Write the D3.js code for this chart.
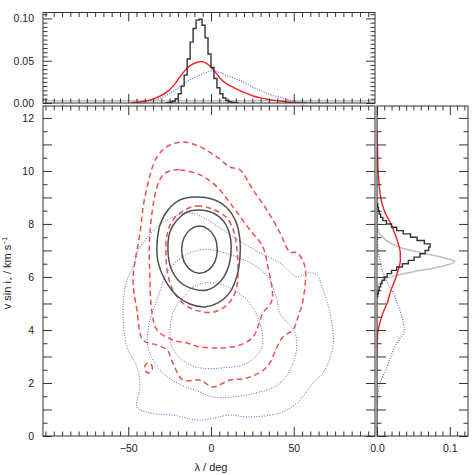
<!DOCTYPE html>
<html lang="en">
<head>
<meta charset="UTF-8">
<title>lambda vs v sin i</title>
<script src="https://d3js.org/d3.v7.min.js"></script>
<style>
    body { margin: 0; background: #fff; }
    svg { display: block; font-family: "Liberation Sans", Arial, sans-serif; }
    .tick text { font-size: 10.5px; fill: #222; }
    .tick line { stroke: #333; }
</style>
</head>
<body>
<svg id="chart" width="475" height="475"></svg>
<script>
// ---- marginal in lambda (top panel) ----
var lamBinWidth = 1.8;
var blackLamCenters = [-26.1, -24.3, -22.5, -20.7, -18.9, -17.1, -15.3, -13.5, -11.7, -9.9, -8.1, -6.3, -4.5, -2.7,
    -0.9, 0.9, 2.7, 4.5, 6.3, 8.1, 9.9, 11.7, 13.5, 15.3];
var blackLamValues  = [0.0003, 0.0008, 0.002, 0.005, 0.011, 0.020, 0.033, 0.052, 0.072, 0.088, 0.098, 0.099, 0.092, 0.077,
    0.058, 0.042, 0.029, 0.018, 0.011, 0.006, 0.003, 0.0015, 0.0007, 0.0003];

var redLam = [[-48, 0.0003], [-42, 0.0015], [-36, 0.004], [-30, 0.009], [-26, 0.014], [-22, 0.022], [-18, 0.033],
    [-14, 0.042], [-10, 0.047], [-6, 0.049], [-2, 0.046], [2, 0.038], [6, 0.028], [10, 0.022], [14, 0.018],
    [18, 0.014], [22, 0.011], [26, 0.008], [30, 0.006], [35, 0.0042], [40, 0.0028], [46, 0.0012], [52, 0.0004], [58, 0]];
var blueLam = [[-50, 0], [-40, 0.0015], [-35, 0.003], [-31, 0.0056], [-27, 0.009], [-23, 0.0135], [-19, 0.019],
    [-15, 0.025], [-11, 0.029], [-7, 0.033], [-3, 0.036], [1, 0.038], [5, 0.0365], [9, 0.033], [13, 0.030],
    [17, 0.027], [21, 0.023], [25, 0.019], [30, 0.0145], [34, 0.011], [39, 0.008], [44, 0.0055], [49, 0.003],
    [54, 0.0015], [60, 0.0007], [66, 0.0003], [72, 0]];
var greyLam = [[-101.5, 0.0028], [99.1, 0.0028]];

// ---- marginal in v sin i (right panel) ----
var vBinWidth = 0.125;
var blackVEdges = [5.25, 5.375, 5.5, 5.625, 5.75, 5.875, 6.0, 6.125, 6.25, 6.375, 6.5, 6.625, 6.75, 6.875, 7.0,
    7.125, 7.25, 7.375, 7.5, 7.625, 7.75, 7.875, 8.0, 8.125, 8.25, 8.375, 8.5, 8.625];
var blackVValues = [0.001, 0.002, 0.003, 0.005, 0.007, 0.010, 0.014, 0.020, 0.027, 0.035, 0.043, 0.051, 0.059, 0.066, 0.071,
    0.073, 0.065, 0.055, 0.046, 0.036, 0.027, 0.020, 0.013, 0.008, 0.005, 0.003, 0.002, 0.001];

var redV = [[11.5, 0], [11, 0.0005], [10.5, 0.001], [10, 0.0015], [9.5, 0.003], [9, 0.005], [8.5, 0.010], [8, 0.019],
    [7.6, 0.025], [7.27, 0.029], [6.9, 0.032], [6.6, 0.032], [6.26, 0.029], [5.9, 0.025], [5.63, 0.021], [5.3, 0.017],
    [5.0, 0.0138], [4.7, 0.009], [4.38, 0.005], [4.1, 0.0025], [3.9, 0.001], [3.5, 0.0003], [3, 0]];
var blueV = [[8, 0], [7.66, 0.0005], [7.3, 0.001], [6.9, 0.002], [6.5, 0.005], [6.0, 0.010], [5.7, 0.016], [5.38, 0.023],
    [5.0, 0.028], [4.63, 0.033], [4.3, 0.036], [4.0, 0.0376], [3.62, 0.030], [3.4, 0.025], [3.13, 0.021], [2.85, 0.017],
    [2.6, 0.014], [2.3, 0.009], [2.0, 0.004], [1.7, 0.002], [1.36, 0.001], [1.0, 0.0004], [0.6, 0]];
var greyV = [[12.45, 0], [8.0, 0], [7.7, 0.002], [7.5, 0.008], [7.3, 0.017], [7.1, 0.033], [6.95, 0.055], [6.8, 0.08],
    [6.68, 0.098], [6.58, 0.107], [6.48, 0.100], [6.35, 0.080], [6.2, 0.050], [6.05, 0.025], [5.9, 0.010],
    [5.75, 0.003], [5.6, 0.001], [5.4, 0], [0, 0]];

// ---- 2D contours [lambda, v sin i] ----
var blackContours = [
    [[3.8, 7.03], [2.4, 7.48], [-1.6, 7.80], [-6.9, 7.92], [-12.3, 7.80], [-16.3, 7.48], [-17.7, 7.03],
     [-16.3, 6.58], [-12.3, 6.26], [-6.9, 6.14], [-1.6, 6.26], [2.4, 6.58]],
    [[-7.3, 8.53], [1.2, 8.42], [7.9, 8.08], [11.5, 7.55], [12.1, 6.94], [10.3, 6.34], [5.4, 5.81], [-2.4, 5.51],
     [-10.9, 5.55], [-18.7, 5.81], [-24.2, 6.34], [-26.0, 7.02], [-24.8, 7.70], [-20.5, 8.15], [-14.5, 8.45]],
    [[-9.7, 9.02], [0.6, 8.94], [9.1, 8.64], [15.1, 8.08], [17.5, 7.40], [17.5, 6.72], [15.7, 6.04], [11.5, 5.43],
     [4.2, 5.02], [-3.6, 4.87], [-12.7, 4.98], [-21.1, 5.32], [-27.8, 5.89], [-32.0, 6.57], [-32.6, 7.21],
     [-30.8, 7.96], [-26.0, 8.53], [-18.7, 8.91]]
];
var redContours = [
    [[-15.7, 8.53], [-8.5, 8.68], [0.6, 8.57], [9.1, 8.26], [13.9, 7.70], [15.7, 7.02], [16.3, 6.26], [15.1, 5.51],
     [10.3, 4.98], [1.8, 4.68], [-7.9, 4.72], [-16.3, 4.98], [-22.4, 5.43], [-26.0, 6.08], [-27.2, 6.83],
     [-26.6, 7.58], [-23.0, 8.15]],
    [[-24.8, 10.0], [-18.7, 10.04], [-6.6, 9.85], [3.6, 9.40], [13.3, 8.64], [23.6, 7.77], [31.4, 7.13], [34.4, 6.38],
     [36.9, 5.13], [31.4, 4.64], [25.4, 3.74], [17.5, 3.43], [5.4, 3.32], [-6.6, 3.36], [-14.5, 3.51], [-23.0, 3.62],
     [-32.6, 4.0], [-35.6, 4.64], [-36.9, 5.89], [-36.9, 7.66], [-32.6, 9.40], [-29.0, 9.85]],
    [[-16.9, 11.09], [-6.6, 10.91], [3.6, 10.53], [11.5, 10.15], [17.5, 10.04], [25.4, 9.28], [33.8, 8.53],
     [41.7, 7.66], [47.7, 6.94], [52.0, 6.91], [56.8, 6.38], [55.6, 5.13], [52.6, 4.49], [49.5, 4.00], [43.5, 3.74],
     [39.9, 3.36], [33.8, 2.60], [21.8, 2.19], [11.5, 2.11], [1.2, 1.85], [-6.6, 2.11], [-16.9, 2.11], [-23.0, 2.75],
     [-26.6, 3.25], [-32.6, 3.43], [-41.1, 3.62], [-44.7, 4.75], [-47.1, 5.89], [-42.9, 7.66], [-39.9, 9.02],
     [-32.6, 10.53], [-24.8, 10.98]],
    [[-37.8, 2.76], [-36.1, 2.70], [-35.4, 2.57], [-36.1, 2.44], [-37.8, 2.38], [-39.5, 2.44], [-40.2, 2.57], [-39.5, 2.70]]
];
var blueContours = [
    [[-14.5, 5.40], [-10.9, 5.62], [-4.8, 5.77], [7.3, 5.70], [21.8, 5.13], [29.6, 4.26], [30.8, 3.36], [21.8, 2.75],
     [7.3, 2.57], [-6.6, 2.57], [-14.5, 2.75], [-23.6, 3.36], [-23.0, 4.64]],
    [[-32.6, 5.13], [-26.6, 6.15], [-17.5, 6.75], [-6.6, 7.02], [1.2, 7.02], [15.7, 6.75], [27.8, 6.38], [35.6, 5.89],
     [39.9, 5.13], [41.7, 4.64], [50.8, 3.89], [50.8, 2.98], [41.7, 2.0], [21.8, 1.55], [1.2, 1.47], [-6.6, 1.66],
     [-20.5, 2.0], [-30.8, 2.49], [-38.1, 3.36], [-36.9, 4.38]],
    [[-50.8, 5.89], [-47.1, 6.38], [-42.9, 7.13], [-38.7, 7.47], [-32.6, 7.89], [-23.0, 8.26], [-14.5, 8.42],
     [-6.6, 8.30], [7.3, 7.77], [19.3, 7.28], [29.6, 6.91], [41.7, 6.53], [52.0, 6.0], [58.6, 6.15], [64.0, 6.08],
     [67.7, 5.51], [71.9, 4.64], [73.7, 3.36], [67.7, 2.38], [61.6, 2.0], [52.0, 1.25], [41.7, 0.87], [21.8, 0.72],
     [11.5, 0.79], [-6.6, 0.60], [-23.0, 0.79], [-36.9, 0.87], [-44.7, 1.09], [-42.9, 1.85], [-44.7, 2.60],
     [-50.8, 3.36], [-53.2, 4.64], [-52.6, 5.32]]
];

// ---- axis ticks ----
var lamMajor = [-50, 0, 50];
var vMajor = [0, 2, 4, 6, 8, 10, 12];
var topMajor = [0, 0.05, 0.10];
var rightMajor = [0, 0.1];

// ---- layout ----
var mainP = { x0: 43, x1: 375, y0: 106, y1: 436 };
var topP = { x0: 43, x1: 375, y0: 12.5, y1: 103 };
var sideP = { x0: 377, x1: 468, y0: 106, y1: 436 };

var x = d3.scaleLinear().domain([-101.5, 99.1]).range([mainP.x0, mainP.x1]);
var y = d3.scaleLinear().domain([0, 12.45]).range([mainP.y1, mainP.y0]);
var yTop = d3.scaleLinear().domain([0, 0.107]).range([topP.y1, topP.y0]);
var xSide = d3.scaleLinear().domain([0, 0.125]).range([sideP.x0, sideP.x1]);

var svg = d3.select("#chart");
var defs = svg.append("defs");
function clip(id, p) {
    defs.append("clipPath").attr("id", id).append("rect")
        .attr("x", p.x0).attr("y", p.y0).attr("width", p.x1 - p.x0).attr("height", p.y1 - p.y0);
}
clip("cm", mainP); clip("ct", topP); clip("cs", sideP);

var BLACK = "#333", RED = "#ee2222", RED2 = "#ee5050", BLUE = "#6060e8", GREY = "#c0c0c0";

// ticks: inward on all four sides
function ticks(p, orient, scale, values, len, fmt, pad) {
    var ax, tr;
    if (orient === "bottom") { ax = d3.axisBottom(scale); tr = "translate(0," + p.y1 + ")"; }
    if (orient === "top") { ax = d3.axisTop(scale); tr = "translate(0," + p.y0 + ")"; }
    if (orient === "left") { ax = d3.axisLeft(scale); tr = "translate(" + p.x0 + ",0)"; }
    if (orient === "right") { ax = d3.axisRight(scale); tr = "translate(" + p.x1 + ",0)"; }
    ax.tickValues(values).tickSize(-len).tickSizeOuter(0).tickPadding(pad || 9)
        .tickFormat(fmt || function () { return ""; });
    var g = svg.append("g").attr("transform", tr).call(ax);
    g.select(".domain").remove();
    return g;
}
function frame(p) {
    svg.append("rect").attr("x", p.x0).attr("y", p.y0).attr("width", p.x1 - p.x0).attr("height", p.y1 - p.y0)
        .attr("fill", "none").attr("stroke", BLACK).attr("stroke-width", 1);
}

var lamMinor = d3.range(-100, 100, 5).filter(function (d) { return lamMajor.indexOf(d) < 0; });
var vMinor = d3.range(0.5, 12.45, 1);
var vMid = d3.range(1, 12.45, 2);
var topMinor = d3.range(0.005, 0.107, 0.005).filter(function (d) { return Math.abs(d - 0.05) > 1e-6 && Math.abs(d - 0.1) > 1e-6; });
var sideMinor = d3.range(0.01, 0.125, 0.01).filter(function (d) { return Math.abs(d - 0.1) > 1e-6; });

// ---- main panel ----
var gm = svg.append("g").attr("clip-path", "url(#cm)");
var contourLine = d3.line().x(function (d) { return x(d[0]); }).y(function (d) { return y(d[1]); })
    .curve(d3.curveCatmullRomClosed.alpha(0.5));

gm.selectAll("path.blue").data(blueContours).enter().append("path")
    .attr("d", contourLine).attr("fill", "none").attr("stroke", BLUE).attr("stroke-width", 1)
    .attr("stroke-dasharray", "1,1.6");
gm.selectAll("path.red").data(redContours).enter().append("path")
    .attr("d", contourLine).attr("fill", "none").attr("stroke", RED2).attr("stroke-width", 1.5)
    .attr("stroke-dasharray", "5.5,3.5");
gm.selectAll("path.black").data(blackContours).enter().append("path")
    .attr("d", contourLine).attr("fill", "none").attr("stroke", "#505050").attr("stroke-width", 1.5);

ticks(mainP, "bottom", x, lamMajor, 9, d3.format("d"));
ticks(mainP, "bottom", x, lamMinor, 4.5);
ticks(mainP, "top", x, lamMajor, 9);
ticks(mainP, "top", x, lamMinor, 4.5);
ticks(mainP, "left", y, vMajor, 9, d3.format("d"));
ticks(mainP, "left", y, vMid, 9);
ticks(mainP, "left", y, vMinor, 4.5);
ticks(mainP, "right", y, vMajor, 9);
ticks(mainP, "right", y, vMid, 9);
ticks(mainP, "right", y, vMinor, 4.5);
frame(mainP);

// ---- top panel ----
var gt = svg.append("g").attr("clip-path", "url(#ct)");
var lamLine = d3.line().x(function (d) { return x(d[0]); }).y(function (d) { return yTop(d[1]); });
gt.append("path").attr("d", lamLine(greyLam)).attr("fill", "none").attr("stroke", GREY).attr("stroke-width", 1.5);
gt.append("path").attr("d", lamLine.curve(d3.curveMonotoneX)(blueLam)).attr("fill", "none")
    .attr("stroke", BLUE).attr("stroke-width", 1.2).attr("stroke-dasharray", "1,1.5");
gt.append("path").attr("d", lamLine.curve(d3.curveMonotoneX)(redLam)).attr("fill", "none")
    .attr("stroke", RED).attr("stroke-width", 1.4);
var blackLamSteps = [];
blackLamCenters.forEach(function (c, i) {
    blackLamSteps.push([c - lamBinWidth / 2, blackLamValues[i]], [c + lamBinWidth / 2, blackLamValues[i]]);
});
blackLamSteps.unshift([blackLamSteps[0][0], 0]);
blackLamSteps.push([blackLamSteps[blackLamSteps.length - 1][0], 0]);
gt.append("path").attr("d", lamLine.curve(d3.curveLinear)(blackLamSteps)).attr("fill", "none")
    .attr("stroke", BLACK).attr("stroke-width", 1.4);

ticks(topP, "bottom", x, lamMajor, 9);
ticks(topP, "bottom", x, lamMinor, 4.5);
ticks(topP, "top", x, lamMajor, 9);
ticks(topP, "top", x, lamMinor, 4.5);
ticks(topP, "left", yTop, topMajor, 9, d3.format(".2f"));
ticks(topP, "left", yTop, topMinor, 4.5);
ticks(topP, "right", yTop, topMajor, 9);
ticks(topP, "right", yTop, topMinor, 4.5);
frame(topP);

// ---- side panel ----
var gs = svg.append("g").attr("clip-path", "url(#cs)");
var vLine = d3.line().x(function (d) { return xSide(d[1]); }).y(function (d) { return y(d[0]); });
gs.append("path").attr("d", vLine.curve(d3.curveMonotoneY)(greyV)).attr("fill", "none")
    .attr("stroke", GREY).attr("stroke-width", 1.5);
gs.append("path").attr("d", vLine.curve(d3.curveMonotoneY)(blueV)).attr("fill", "none")
    .attr("stroke", BLUE).attr("stroke-width", 1.2).attr("stroke-dasharray", "1,1.5");
gs.append("path").attr("d", vLine.curve(d3.curveMonotoneY)(redV)).attr("fill", "none")
    .attr("stroke", RED).attr("stroke-width", 1.4);
var blackVSteps = [];
blackVEdges.forEach(function (e, i) {
    blackVSteps.push([e, blackVValues[i]], [e + vBinWidth, blackVValues[i]]);
});
blackVSteps.unshift([blackVSteps[0][0], 0]);
blackVSteps.push([blackVSteps[blackVSteps.length - 1][0], 0]);
gs.append("path").attr("d", vLine.curve(d3.curveLinear)(blackVSteps)).attr("fill", "none")
    .attr("stroke", BLACK).attr("stroke-width", 1.4);

ticks(sideP, "bottom", xSide, rightMajor, 9, d3.format(".1f"));
ticks(sideP, "bottom", xSide, sideMinor, 4.5);
ticks(sideP, "top", xSide, rightMajor, 9);
ticks(sideP, "top", xSide, sideMinor, 4.5);
ticks(sideP, "left", y, vMajor, 9);
ticks(sideP, "left", y, vMid, 9);
ticks(sideP, "left", y, vMinor, 4.5);
ticks(sideP, "right", y, vMajor, 9);
ticks(sideP, "right", y, vMid, 9);
ticks(sideP, "right", y, vMinor, 4.5);
frame(sideP);

// ---- axis titles ----
svg.append("text").attr("x", x(0)).attr("y", 471).attr("text-anchor", "middle")
    .attr("font-size", 11).attr("fill", "#222").text("λ / deg");
var yl = svg.append("text").attr("transform", "translate(11," + ((mainP.y0 + mainP.y1) / 2 + 2) + ") rotate(-90)")
    .attr("text-anchor", "middle").attr("font-size", 11).attr("fill", "#222");
yl.append("tspan").text("v sin i");
yl.append("tspan").attr("font-size", 7).attr("dy", 2).text("⋆");
yl.append("tspan").attr("dy", -2).text(" / km s");
yl.append("tspan").attr("font-size", 7).attr("dy", -4).text("−1");
</script>
</body>
</html>
